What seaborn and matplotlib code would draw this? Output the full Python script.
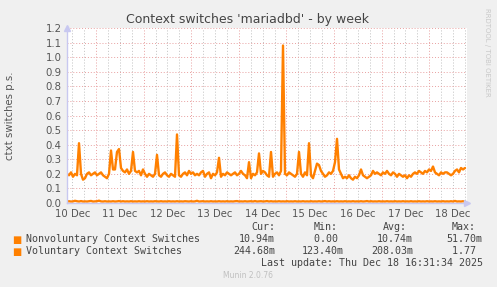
import numpy as np
import pandas as pd
import matplotlib
matplotlib.use("Agg")
import matplotlib.pyplot as plt
import seaborn as sns

title = "Context switches 'mariadbd' - by week"
ylabel = "ctxt switches p.s."
day_labels = ["10 Dec", "11 Dec", "12 Dec", "13 Dec", "14 Dec", "15 Dec", "16 Dec", "17 Dec", "18 Dec"]
series_names = ["Nonvoluntary Context Switches", "Voluntary Context Switches"]
cur_vals = ["10.94m", "244.68m"]
min_vals = ["0.00 ", "123.40m"]
avg_vals = ["10.74m", "208.03m"]
max_vals = ["51.70m", "1.77 "]
last_update = "Last update: Thu Dec 18 16:31:34 2025"

voluntary = [
    0.20, 0.19, 0.21, 0.18, 0.20, 0.19, 0.41, 0.20, 0.16, 0.17,
    0.20, 0.21, 0.19, 0.20, 0.21, 0.19, 0.20, 0.21, 0.19, 0.18,
    0.17, 0.20, 0.36, 0.23, 0.23, 0.35, 0.37, 0.24, 0.22, 0.21,
    0.23, 0.20, 0.22, 0.35, 0.22, 0.21, 0.22, 0.19, 0.23, 0.20,
    0.18, 0.20, 0.19, 0.18, 0.20, 0.33, 0.19, 0.18, 0.20, 0.21,
    0.19, 0.18, 0.20, 0.19, 0.18, 0.47, 0.19, 0.18, 0.20, 0.21,
    0.19, 0.22, 0.20, 0.21, 0.19, 0.20, 0.19, 0.21, 0.22, 0.18,
    0.20, 0.21, 0.17, 0.20, 0.19, 0.21, 0.31, 0.18, 0.20, 0.19,
    0.21, 0.20, 0.19, 0.20, 0.21, 0.19, 0.20, 0.22, 0.20, 0.19,
    0.17, 0.28, 0.17, 0.20, 0.19, 0.21, 0.34, 0.20, 0.22, 0.21,
    0.19, 0.18, 0.35, 0.18, 0.20, 0.21, 0.19, 0.22, 1.08, 0.20,
    0.19, 0.21, 0.20, 0.19, 0.18, 0.20, 0.35, 0.20, 0.18, 0.21,
    0.19, 0.41, 0.19, 0.17, 0.22, 0.27, 0.26, 0.22, 0.20, 0.18,
    0.19, 0.21, 0.20, 0.22, 0.28, 0.44, 0.23, 0.20, 0.17, 0.18,
    0.17, 0.19, 0.17, 0.16, 0.18, 0.17, 0.19, 0.23, 0.19, 0.18,
    0.17, 0.18, 0.19, 0.22, 0.20, 0.21, 0.20, 0.19, 0.21, 0.20,
    0.22, 0.20, 0.19, 0.21, 0.20, 0.18, 0.20, 0.19, 0.18, 0.19,
    0.17, 0.19, 0.18, 0.20, 0.21, 0.20, 0.22, 0.21, 0.20, 0.22,
    0.21, 0.23, 0.22, 0.25, 0.21, 0.20, 0.19, 0.21, 0.20, 0.21,
    0.21, 0.20, 0.19, 0.20, 0.22, 0.23, 0.21, 0.24, 0.23, 0.24,
]

nonvoluntary = [
    0.010, 0.012, 0.010, 0.011, 0.015, 0.012, 0.010, 0.013, 0.010, 0.011,
    0.010, 0.012, 0.014, 0.010, 0.011, 0.012, 0.016, 0.011, 0.010, 0.012,
    0.010, 0.011, 0.010, 0.012, 0.010, 0.011, 0.013, 0.010, 0.012, 0.010,
    0.011, 0.010, 0.012, 0.010, 0.011, 0.010, 0.012, 0.010, 0.011, 0.010,
    0.012, 0.010, 0.011, 0.010, 0.012, 0.011, 0.010, 0.012, 0.010, 0.011,
    0.010, 0.012, 0.010, 0.011, 0.010, 0.012, 0.010, 0.011, 0.010, 0.012,
    0.011, 0.010, 0.012, 0.010, 0.011, 0.015, 0.010, 0.011, 0.012, 0.010,
    0.011, 0.010, 0.012, 0.010, 0.011, 0.010, 0.012, 0.010, 0.011, 0.010,
    0.012, 0.010, 0.011, 0.010, 0.012, 0.013, 0.010, 0.011, 0.010, 0.012,
    0.010, 0.011, 0.012, 0.010, 0.013, 0.010, 0.011, 0.012, 0.010, 0.011,
    0.013, 0.010, 0.012, 0.010, 0.011, 0.010, 0.012, 0.010, 0.011, 0.010,
    0.012, 0.010, 0.011, 0.010, 0.012, 0.010, 0.011, 0.010, 0.012, 0.010,
    0.011, 0.010, 0.012, 0.010, 0.011, 0.010, 0.012, 0.010, 0.011, 0.013,
    0.010, 0.012, 0.010, 0.011, 0.010, 0.012, 0.010, 0.011, 0.010, 0.012,
    0.010, 0.011, 0.010, 0.012, 0.010, 0.011, 0.010, 0.012, 0.010, 0.011,
    0.013, 0.010, 0.012, 0.010, 0.011, 0.010, 0.012, 0.010, 0.011, 0.010,
    0.012, 0.010, 0.011, 0.010, 0.012, 0.010, 0.011, 0.010, 0.012, 0.010,
    0.011, 0.010, 0.012, 0.010, 0.011, 0.010, 0.012, 0.010, 0.011, 0.010,
    0.012, 0.010, 0.011, 0.010, 0.012, 0.010, 0.011, 0.010, 0.012, 0.010,
    0.011, 0.010, 0.012, 0.010, 0.014, 0.010, 0.011, 0.010, 0.012, 0.010,
]

# time axis: days since 10 Dec 00:00, sampled hourly-ish
t0 = 0.39
step = 2 / 47.6
times = t0 + step * np.arange(len(voluntary))

df = pd.DataFrame({
    "t": np.concatenate([times, times]),
    "v": np.concatenate([nonvoluntary, voluntary]),
    "s": [series_names[0]] * len(nonvoluntary) + [series_names[1]] * len(voluntary),
})

W, H = 497, 287
sns.set_style("white")
plt.rcParams["font.family"] = ["DejaVu Sans"]

fig = plt.figure(figsize=(W / 100, H / 100), dpi=100, facecolor="#F0F0F0")
ax = fig.add_axes([67 / W, 1 - 203 / H, 400 / W, 175 / H])
ax.set_facecolor("white")

orange = "#FF8000"
sns.lineplot(data=df, x="t", y="v", hue="s", palette=[orange, orange],
             ax=ax, legend=False, linewidth=1.7, estimator=None)

ax.set_xlim(t0, t0 + 400 / 47.6)
ax.set_ylim(0, 1.2)

# grid
for d in np.arange(0.25, 9.0, 0.25):
    if d < t0 or d > t0 + 400 / 47.6:
        continue
    if abs(d - round(d)) < 1e-6:
        ax.axvline(d, color="#E8A0A0", lw=0.7, ls=(0, (1, 2)), zorder=0.5)
    else:
        ax.axvline(d, color="#C0C0C0", lw=0.7, ls=(0, (1, 2)), zorder=0.5)
for yv in np.arange(0.1, 1.25, 0.1):
    ax.axhline(yv, color="#E8A0A0", lw=0.7, ls=(0, (1, 2)), zorder=0.5)

ax.set_yticks(np.round(np.arange(0, 1.25, 0.1), 1))
ax.set_yticklabels([f"{v:.1f}" for v in np.arange(0, 1.25, 0.1)])
ax.set_xticks([i + 0.5 for i in range(len(day_labels))])
ax.set_xticklabels(day_labels)
ax.tick_params(axis="both", length=0, labelsize=7.3, labelcolor="#555555", pad=4)
ax.set_xlabel("")
ax.set_ylabel("")

for s in ["top", "right"]:
    ax.spines[s].set_visible(False)
for s in ["left", "bottom"]:
    ax.spines[s].set_color("#C8C8F0")
    ax.spines[s].set_linewidth(1.0)
ax.plot([0], [1.0], marker="^", color="#C8C8F0", ms=4, transform=ax.transAxes, clip_on=False)
ax.plot([1.0], [0], marker=">", color="#C8C8F0", ms=4, transform=ax.transAxes, clip_on=False)


def P(x, y):
    return x / W, 1 - y / H


fig.text(*P(248, 19), title, ha="center", va="center", fontsize=9, color="#444444")
fig.text(*P(10, 116), ylabel, ha="center", va="center", rotation=90, fontsize=7.3, color="#555555")
fig.text(*P(487, 52), "RRDTOOL / TOBI OETIKER", ha="center", va="center", rotation=270,
         fontsize=5, color="#C8C8C8")

mono = "DejaVu Sans Mono"
fs = 7.2
tc = "#444444"
for hdr, xr in zip(["Cur:", "Min:", "Avg:", "Max:"], [275, 338, 407, 476]):
    fig.text(*P(xr, 227), hdr, ha="right", va="center", family=mono, fontsize=fs, color=tc)
rows_y = [239.5, 251.5]
for i, name in enumerate(series_names):
    y = rows_y[i]
    fig.text(*P(16.5, y), "\u25A0", ha="center", va="center", fontsize=7, color=orange)
    fig.text(*P(26, y), name, ha="left", va="center", family=mono, fontsize=fs, color=tc)
    for val, xr in zip([cur_vals[i], min_vals[i], avg_vals[i], max_vals[i]], [275, 344, 413, 482]):
        fig.text(*P(xr, y), val, ha="right", va="center", family=mono, fontsize=fs, color=tc)
fig.text(*P(483, 263.5), last_update, ha="right", va="center", family=mono, fontsize=fs, color=tc)
fig.text(*P(248, 275.5), "Munin 2.0.76", ha="center", va="center", fontsize=5.5, color="#C0C0C0")

fig.savefig("out.png", dpi=100, facecolor=fig.get_facecolor())
